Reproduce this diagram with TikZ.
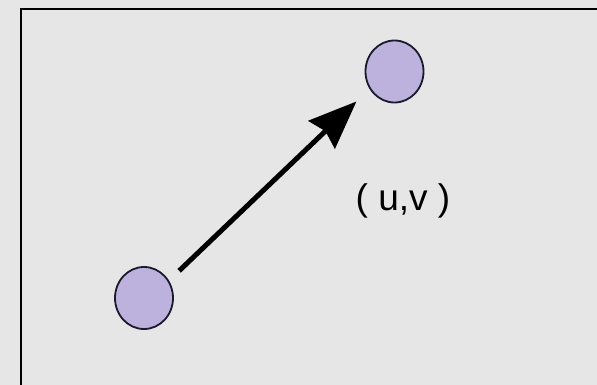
\documentclass[tikz,border=0pt]{standalone}
\usepackage{fontspec}
\setmainfont{Liberation Sans}
\usepackage{tikz}
\usetikzlibrary{shapes.geometric, arrows.meta, positioning}
\definecolor{flowbg}{HTML}{E6E6E6}
\definecolor{flowdot}{HTML}{BDB2DD}
\definecolor{flowedge}{HTML}{1A1A2E}

\begin{document}
\begin{tikzpicture}[
  x=1pt, y=-1pt,
  pixel/.style={ellipse, draw=flowedge, line width=1.8pt, fill=flowdot, minimum width=58pt, minimum height=62pt, inner sep=0pt},
  motion/.style={line width=5pt, -{Stealth[length=48pt, width=38pt, inset=5pt]}, shorten <=14pt, shorten >=18pt},
  label/.style={font=\fontsize{37}{40}\selectfont, text=black}
]
\fill[flowbg] (0,0) rectangle (597,385);
\useasboundingbox (0,0) rectangle (597,385);
\draw[line width=2.5pt] (21,400) -- (21,9) -- (610,9);

\node[pixel] (p0) at (144,298) {};
\node[pixel] (p1) at (394.5,71.5) {};
\draw[motion] (p0.35) -- (p1.215);
\node[label] (uv) at (403,201) {( u,v )};
\end{tikzpicture}
\end{document}
